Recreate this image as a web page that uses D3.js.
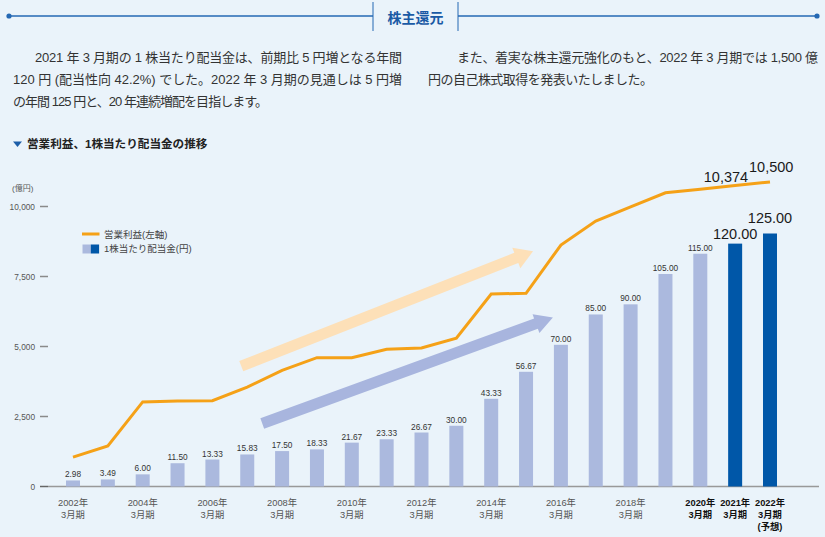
<!DOCTYPE html>
<html><head><meta charset="utf-8">
<script src="https://cdn.jsdelivr.net/npm/d3@7"></script>
<style>html,body{margin:0;padding:0;background:#eaf3fa;}svg{display:block}</style>
</head><body>
<svg id="c" width="825" height="537"></svg>
<script>
// ---------- DATA ----------
const years = [2002,2003,2004,2005,2006,2007,2008,2009,2010,2011,2012,2013,2014,2015,2016,2017,2018,2019,2020,2021,2022];
const dividends = [2.98,3.49,6.00,11.50,13.33,15.83,17.50,18.33,21.67,23.33,26.67,30.00,43.33,56.67,70.00,85.00,90.00,105.00,115.00,120.00,125.00];
const operatingProfit = [1050,1450,3020,3050,3065,3550,4150,4600,4600,4900,4950,5300,6875,6900,8625,9480,9990,10490,10620,10750,10875];
const highlightYears = [2021,2022];
const profitLabelYears = [2021,2022];
const profitLabels = ["10,374","10,500"];
const yTicks = [0,2500,5000,7500,10000];
const xLabelYears = [2002,2004,2006,2008,2010,2012,2014,2016,2018,2020,2021,2022];
const boldLabelYears = [2020,2021,2022];
const forecastYear = 2022;
const headerTitle = "株主還元";
const paraLeft = ["2021 年 3 月期の 1 株当たり配当金は、前期比 5 円増となる年間","120 円 (配当性向 42.2%) でした。2022 年 3 月期の見通しは 5 円増","の年間 125 円と、20 年連続増配を目指します。"];
const paraRight = ["また、着実な株主還元強化のもと、2022 年 3 月期では 1,500 億","円の自己株式取得を発表いたしました。"];
const sectionTitle = "営業利益、1株当たり配当金の推移";
const legendLabels = ["営業利益(左軸)","1株当たり配当金(円)"];
const unitLabel = "(億円)";

// ---------- SETUP ----------
const F = "'Liberation Sans','Noto Sans CJK JP',sans-serif";
const svg = d3.select("#c");
const blue = "#2468b3";
svg.append("rect").attr("width",825).attr("height",537).attr("fill","#eaf3fa");

// header
const hdr = svg.append("g");
hdr.append("line").attr("x1",9).attr("x2",373).attr("y1",16).attr("y2",16).attr("stroke",blue).attr("stroke-width",1.3);
hdr.append("line").attr("x1",458).attr("x2",817).attr("y1",16).attr("y2",16).attr("stroke",blue).attr("stroke-width",1.3);
[9,817].forEach(x=>hdr.append("circle").attr("cx",x).attr("cy",16).attr("r",2.6).attr("fill",blue));
[373,458].forEach(x=>hdr.append("line").attr("x1",x).attr("x2",x).attr("y1",2).attr("y2",31).attr("stroke",blue).attr("stroke-width",1));
hdr.append("text").attr("x",415.5).attr("y",23).attr("text-anchor","middle").attr("font-family",F)
  .attr("font-size",14).attr("font-weight","bold").attr("fill","#1a5aa5").text(headerTitle);

// paragraphs (fitted to the reference line widths)
const pg = svg.append("g").attr("font-family",F).attr("font-size",13).attr("fill","#333");
const leftX = [35,13,13], leftW = [367,389,255];
const rightX = [457,428], rightW = [361,225];
paraLeft.forEach((t,i)=>pg.append("text").attr("x",leftX[i]).attr("y",62+i*22).attr("textLength",leftW[i]).attr("lengthAdjust","spacing").text(t));
paraRight.forEach((t,i)=>pg.append("text").attr("x",rightX[i]).attr("y",62+i*22).attr("textLength",rightW[i]).attr("lengthAdjust","spacing").text(t));

// section title
svg.append("path").attr("d","M13,141.5 L22,141.5 L17.5,147 Z").attr("fill","#1c5ea8");
svg.append("text").attr("x",27).attr("y",148).attr("font-family",F).attr("font-size",11.6).attr("font-weight","bold").attr("fill","#222").text(sectionTitle);

// ---------- SCALES ----------
const y0 = 486.5;
const x = d3.scalePoint().domain(years).range([73,770]);
const yL = d3.scaleLinear().domain([0,10000]).range([y0,206.5]);
const yR = d3.scaleLinear().domain([0,125]).range([y0,233.5]);
const barW = 14;

// axis ticks and labels
const ax = svg.append("g");
yTicks.forEach(v=>{
  ax.append("line").attr("x1",40).attr("x2",48).attr("y1",yL(v)).attr("y2",yL(v)).attr("stroke",v===0?"#666":"#8a8a8a").attr("stroke-width",1.5);
  ax.append("text").attr("x",35).attr("y",yL(v)+3).attr("text-anchor","end").attr("font-family",F).attr("font-size",8.3).attr("fill","#555").text(d3.format(",")(v));
});
ax.append("text").attr("x",12).attr("y",191).attr("font-family",F).attr("font-size",8).attr("fill","#555").text(unitLabel);
ax.append("line").attr("x1",48).attr("x2",819).attr("y1",y0).attr("y2",y0).attr("stroke","#999").attr("stroke-width",1.5);

// decorative trend arrows
function arrow(x1,y1,x2,y2,w,hw,hl,color){
  const dx=x2-x1, dy=y2-y1, L=Math.hypot(dx,dy), ux=dx/L, uy=dy/L, nx=-uy, ny=ux;
  const bx=x2-ux*hl, by=y2-uy*hl;
  const p=[[x1+nx*w/2,y1+ny*w/2],[bx+nx*w/2,by+ny*w/2],[bx+nx*hw,by+ny*hw],[x2,y2],[bx-nx*hw,by-ny*hw],[bx-nx*w/2,by-ny*w/2],[x1-nx*w/2,y1-ny*w/2]];
  svg.append("path").attr("d","M"+p.map(q=>q.join(",")).join("L")+"Z").attr("fill",color);
}
arrow(x(2007)-6, yL(4300), x(2015)+7, yL(8400), 11, 11, 18, "#fde0b8");
arrow(x(2007)+15, yL(2250), x(2016)-8, yL(6040), 11, 10, 18, "#a8b5de");

// bars
svg.append("g").selectAll("rect").data(years).join("rect")
  .attr("x",d=>x(d)-barW/2).attr("width",barW)
  .attr("y",(d,i)=>yR(dividends[i])).attr("height",(d,i)=>y0-yR(dividends[i]))
  .attr("fill",d=>highlightYears.includes(d)?"#0057a8":"#abb9de");

// bar labels
svg.append("g").selectAll("text").data(years).join("text")
  .attr("x",d=>x(d)).attr("text-anchor","middle").attr("font-family",F)
  .attr("y",(d,i)=>yR(dividends[i])-(highlightYears.includes(d)?(d===2022?11:5):3))
  .attr("font-size",d=>highlightYears.includes(d)?14.5:8.3)
  .attr("fill",d=>highlightYears.includes(d)?"#1a1a1a":"#333")
  .text((d,i)=>d3.format(".2f")(dividends[i]));

// profit line
svg.append("path").datum(years).attr("fill","none").attr("stroke","#f5a117").attr("stroke-width",3).attr("stroke-linejoin","miter")
  .attr("d",d3.line().x(d=>x(d)).y((d,i)=>yL(operatingProfit[i])));

// profit labels
profitLabelYears.forEach((yr,k)=>{
  const i=years.indexOf(yr);
  svg.append("text").attr("font-family",F).attr("font-size",14.5).attr("fill","#1a1a1a")
    .attr("x",k===0?x(yr)+13:x(yr)-21).attr("y",k===0?yL(operatingProfit[i])-4:yL(operatingProfit[i])-10)
    .attr("text-anchor",k===0?"end":"start").text(profitLabels[k]);
});

// x labels
const xl = svg.append("g").attr("font-family",F).attr("font-size",9.3).attr("text-anchor","middle");
xLabelYears.forEach(yr=>{
  const b = boldLabelYears.includes(yr);
  const t = xl.append("text").attr("x",x(yr)).attr("y",505.5).attr("fill",b?"#111":"#555").attr("font-weight",b?"bold":"normal");
  t.append("tspan").attr("x",x(yr)).attr("dy",0).text(yr+"年");
  t.append("tspan").attr("x",x(yr)).attr("dy",12.7).text("3月期");
  if(yr===forecastYear) t.append("tspan").attr("x",x(yr)).attr("dy",12).text("(予想)");
});

// legend
const lg = svg.append("g");
lg.append("line").attr("x1",82).attr("x2",99.5).attr("y1",234).attr("y2",234).attr("stroke","#f5a117").attr("stroke-width",3);
lg.append("rect").attr("x",82.5).attr("y",244.5).attr("width",8.3).attr("height",9).attr("fill","#abb9de");
lg.append("rect").attr("x",90.8).attr("y",244.5).attr("width",8.3).attr("height",9).attr("fill","#0057a8");
legendLabels.forEach((t,i)=>lg.append("text").attr("x",104).attr("y",237.5+i*14.5).attr("font-family",F).attr("font-size",9.5).attr("fill","#444").text(t));
</script>
</body></html>
